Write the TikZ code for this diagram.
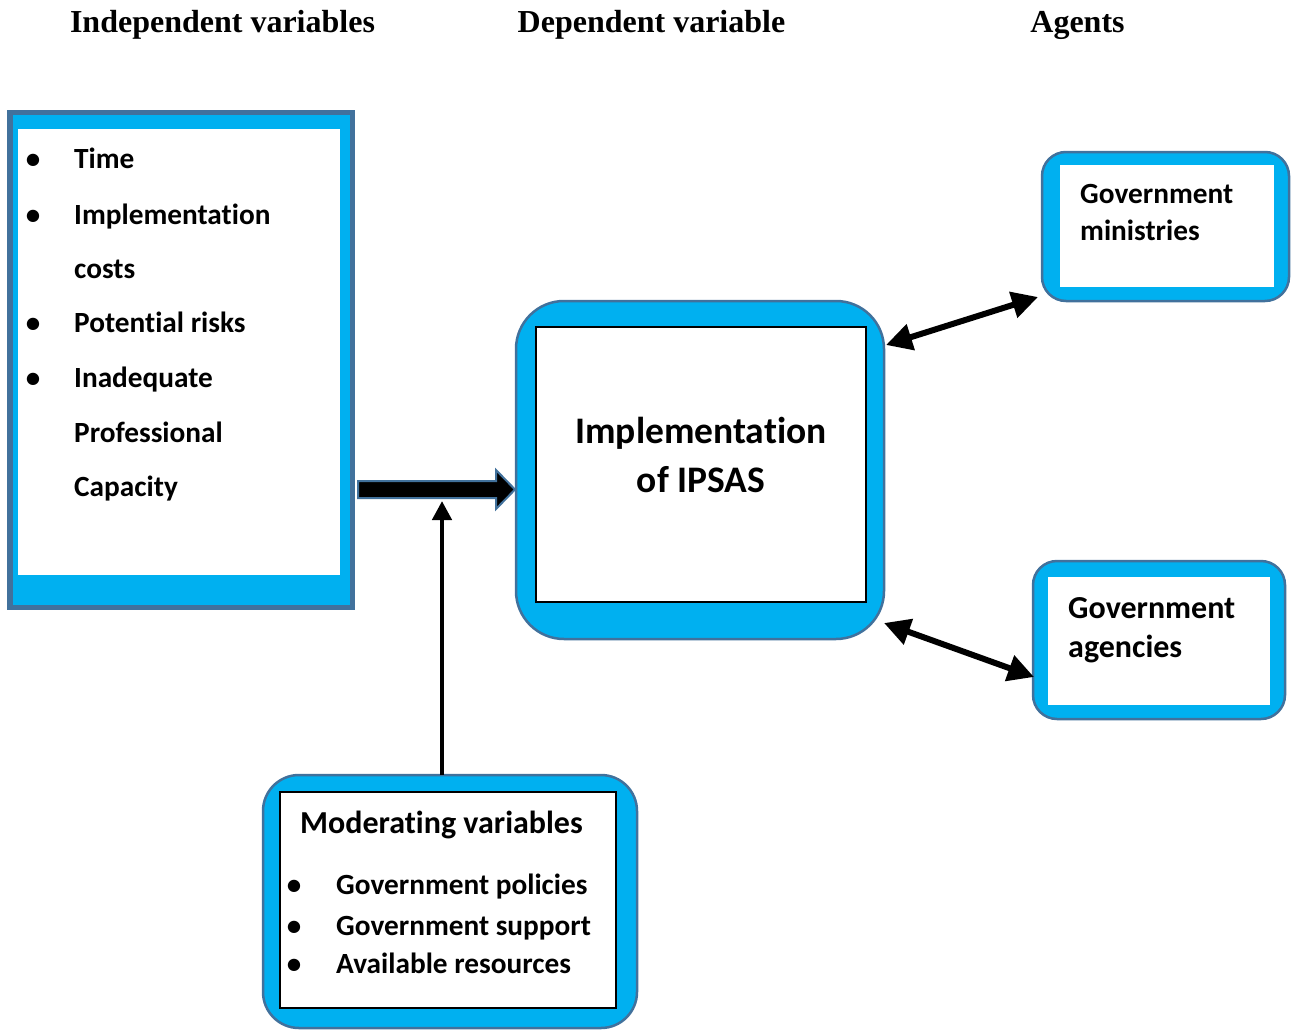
\documentclass[tikz,border=0pt]{standalone}
\usepackage{fontspec}
\setmainfont{Carlito}[Ligatures=NoCommon]
\newfontfamily\hdrfont{Liberation Serif}
\usetikzlibrary{arrows.meta,calc}
\definecolor{cyanfill}{HTML}{00B0F0}
\definecolor{bordblue}{HTML}{41719C}
\begin{document}
\begin{tikzpicture}[x=1pt,y=-1pt,
  outerbox/.style={draw=bordblue, fill=cyanfill, line width=2.5pt, inner sep=0pt, outer sep=0pt},
  innerbox/.style={fill=white, inner sep=0pt, outer sep=0pt},
  innerframed/.style={fill=white, draw=black, line width=1.2pt, inner sep=0pt, outer sep=0pt},
  hdr/.style={font=\hdrfont\bfseries\fontsize{32}{38}\selectfont, anchor=base, inner sep=0pt},
  txt/.style={font=\bfseries\fontsize{29.3}{34}\selectfont, anchor=base west, inner sep=0pt},
  bul/.style={font=\bfseries\fontsize{29}{34}\selectfont, anchor=base, inner sep=0pt},
  dbl/.style={line width=6pt, {Triangle[length=26pt,width=26pt]}-{Triangle[length=26pt,width=26pt]}},
  varrow/.style={line width=4.5pt, -{Triangle[length=19pt,width=19pt]}},
  fatarrow/.style={fill=black, draw=bordblue, line width=2pt, line join=miter}
]
\useasboundingbox (0,0) rectangle (1292,1030);

% headers
\node[hdr] (h1) at (222.5,33) {Independent variables};
\node[hdr] (h2) at (651.5,33) {Dependent variable};
\node[hdr] (h3) at (1077.5,33) {Agents};

% left box
\node[outerbox, line width=5.5pt, minimum width=342.5pt, minimum height=494.5pt] (L) at (181,360) {};
\node[innerbox, minimum width=322pt, minimum height=446pt] (Li) at (179,352) {};
\node[bul] (lb1) at (33,168) {\textbullet};
\node[txt] (lt1) at (74,168) {Time};
\node[bul] (lb2) at (33,224) {\textbullet};
\node[txt] (lt2) at (74,224) {Implementation};
\node[txt] (lt3) at (74,278) {costs};
\node[bul] (lb4) at (33,332) {\textbullet};
\node[txt] (lt4) at (74,332) {Potential risks};
\node[bul] (lb5) at (33,387) {\textbullet};
\node[txt] (lt5) at (74,387) {Inadequate};
\node[txt] (lt6) at (74,442) {Professional};
\node[txt] (lt7) at (74,496) {Capacity};

% centre box
\node[outerbox, rounded corners=48pt, minimum width=368pt, minimum height=338pt] (C) at (700,470) {};
\node[innerframed, minimum width=330pt, minimum height=275pt] (Ci) at (701,464.5) {};
\node[font=\bfseries\fontsize{37.5}{44}\selectfont, anchor=base, inner sep=0pt] (ct1) at (701,443) {Implementation};
\node[font=\bfseries\fontsize{37.5}{44}\selectfont, anchor=base, inner sep=0pt] (ct2) at (701,492) {of IPSAS};

% ministries
\node[outerbox, rounded corners=24pt, minimum width=247pt, minimum height=149pt] (GM) at (1165.5,226.5) {};
\node[innerbox, minimum width=214pt, minimum height=122pt] (GMi) at (1167,226) {};
\node[txt] (gm1) at (1080,203) {Government};
\node[txt] (gm2) at (1080,240) {ministries};

% agencies
\node[outerbox, rounded corners=24pt, minimum width=252pt, minimum height=158pt] (GA) at (1159,640) {};
\node[innerbox, minimum width=222pt, minimum height=128pt] (GAi) at (1159,641) {};
\node[txt, font=\bfseries\fontsize{32}{38}\selectfont] (ga1) at (1068,618) {Government};
\node[txt, font=\bfseries\fontsize{32}{38}\selectfont] (ga2) at (1068,657) {agencies};

% moderating
\node[outerbox, rounded corners=36pt, minimum width=374pt, minimum height=253pt] (M) at (450,901.5) {};
\node[innerframed, minimum width=336pt, minimum height=216pt] (Mi) at (448,900) {};
\node[txt, font=\bfseries\fontsize{32}{38}\selectfont] (mt) at (300,833) {Moderating variables};
\node[bul] (mb1) at (294,894) {\textbullet};
\node[txt] (m1) at (336,894) {Government policies};
\node[bul] (mb2) at (294,935) {\textbullet};
\node[txt] (m2) at (336,935) {Government support};
\node[bul] (mb3) at (294,973) {\textbullet};
\node[txt] (m3) at (336,973) {Available resources};

% fat arrow L -> C
\coordinate (fa) at (358,489.5);
\coordinate (fb) at (515,489.5);
\draw[fatarrow] ($(fa)+(0,-8.5)$) -- ($(fb)+(-19,-8.5)$) -- ($(fb)+(-19,-19.5)$) -- (fb)
  -- ($(fb)+(-19,19.5)$) -- ($(fb)+(-19,8.5)$) -- ($(fa)+(0,8.5)$) -- cycle;

% vertical arrow M -> fat arrow
\coordinate (vtop) at (442,501);
\draw[varrow] (M.north -| vtop) -- (vtop);

% double arrows
\coordinate (a1) at (886,345);
\coordinate (a2) at (1038,297);
\draw[dbl] (a1) -- (a2);
\coordinate (b1) at (884,623);
\coordinate (b2) at (1034,677);
\draw[dbl] (b1) -- (b2);
\end{tikzpicture}
\end{document}
